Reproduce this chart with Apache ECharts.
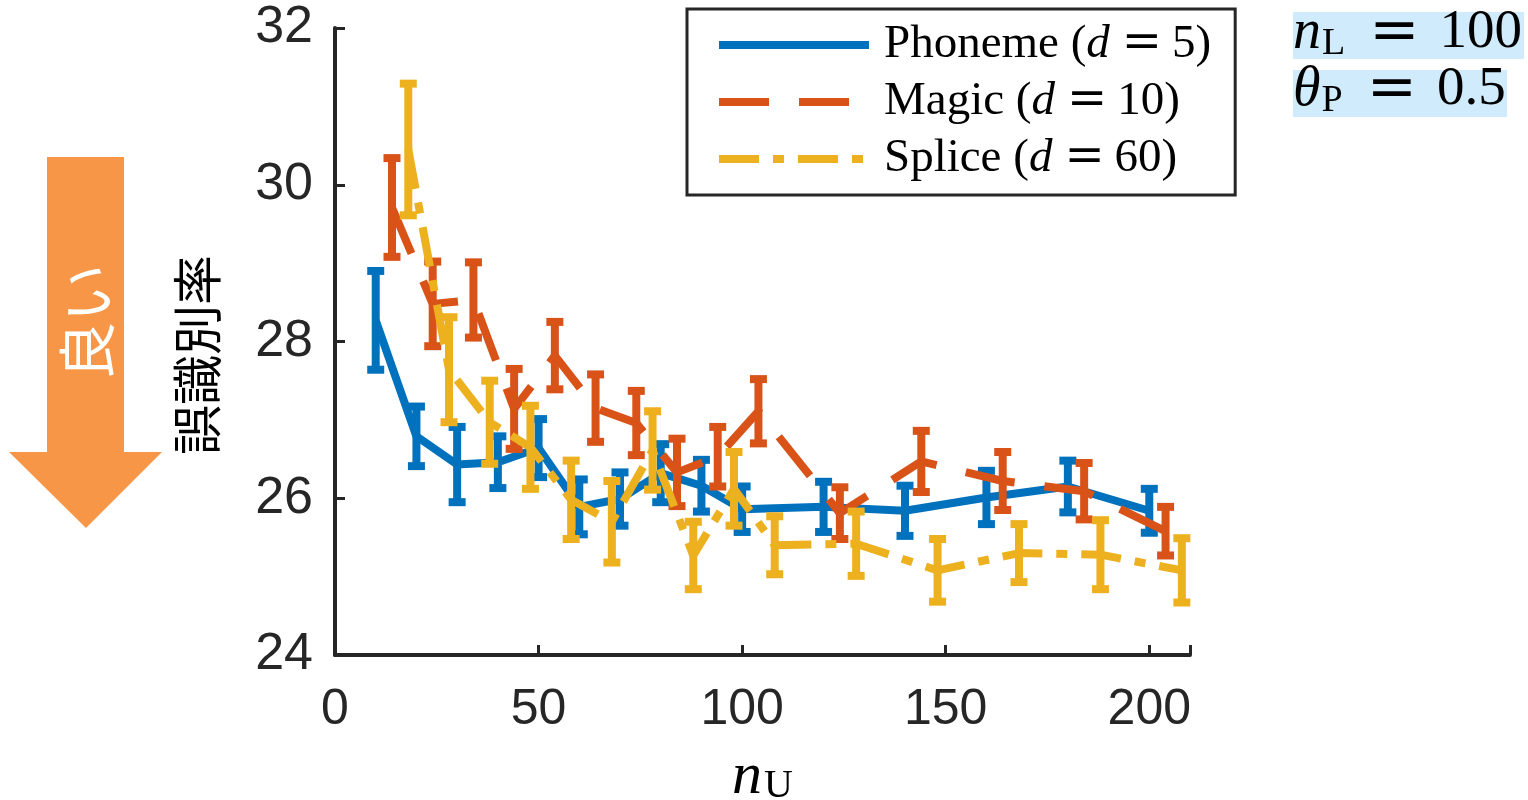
<!DOCTYPE html>
<html>
<head>
<meta charset="utf-8">
<title>誤識別率</title>
<script src="https://cdn.jsdelivr.net/npm/echarts@6/dist/echarts.min.js"></script>
<style>
  html, body { margin: 0; padding: 0; background: #fff; }
  #myChart { width: 1528px; height: 800px; }
</style>
</head>
<body>
<div id="myChart"></div>
<script>
// 系列名と次元 d
let names = ["Phoneme", "Magic", "Splice"];
let dims = [5, 10, 60];
let colors = ["#0072BD", "#D95319", "#EDB120"];

// n_U（各手法は少しずらして描かれている）
let xPhoneme = [10, 20, 30, 40, 50, 60, 70, 80, 90, 100, 120, 140, 160, 180, 200];
let xMagic = [14, 24, 34, 44, 54, 64, 74, 84, 94, 104, 124, 144, 164, 184, 204];
let xSplice = [18, 28, 38, 48, 58, 68, 78, 88, 98, 108, 128, 148, 168, 188, 208];

// 誤識別率（平均）と誤差
let phoneme = [28.27, 26.79, 26.43, 26.46, 26.64, 25.89, 25.99, 26.32, 26.16, 25.86, 25.89, 25.84, 26.01, 26.15, 25.84];
let phonemeErr = [0.63, 0.38, 0.48, 0.33, 0.37, 0.35, 0.34, 0.37, 0.33, 0.29, 0.32, 0.32, 0.34, 0.33, 0.28];
let magic = [29.71, 28.48, 28.53, 27.14, 27.82, 27.15, 26.96, 26.33, 26.53, 27.11, 25.81, 26.47, 26.22, 26.09, 25.58];
let magicErr = [0.63, 0.54, 0.48, 0.51, 0.43, 0.43, 0.41, 0.43, 0.38, 0.41, 0.33, 0.39, 0.37, 0.36, 0.31];
let splice = [30.45, 27.64, 26.97, 26.65, 25.98, 25.70, 26.61, 25.27, 26.12, 25.40, 25.42, 25.08, 25.30, 25.28, 25.08];
let spliceErr = [0.84, 0.67, 0.53, 0.53, 0.50, 0.52, 0.50, 0.43, 0.47, 0.37, 0.41, 0.40, 0.37, 0.44, 0.41];

let xTicks = [0, 50, 100, 150, 200];
let yTicks = [24, 26, 28, 30, 32];

let myChart = echarts.init(document.getElementById("myChart"));

let axisColor = "#262626";
let serif = "'Liberation Serif', 'DejaVu Serif', serif";
let mathSym = "'DejaVu Serif', serif";
let sans = "'Liberation Sans', Arial, sans-serif";
let cjk = "'Noto Sans CJK JP', sans-serif";

// 折れ線
function lineSeries(idx, xs, ys, dash) {
  return {
    name: names[idx],
    type: "line",
    symbol: "none",
    z: 2 + idx * 2,
    lineStyle: { color: colors[idx], width: 8, type: dash },
    itemStyle: { color: colors[idx] },
    data: xs.map((x, i) => [x, ys[i]]),
    silent: true
  };
}

// エラーバー（縦線＋上下のキャップ）
function errorSeries(idx, xs, ys, errs) {
  let color = colors[idx];
  return {
    name: names[idx] + "-err",
    type: "custom",
    z: 3 + idx * 2,
    silent: true,
    renderItem: function(params, api) {
      let x = api.value(0);
      let lo = api.coord([x, api.value(1)]);
      let hi = api.coord([x, api.value(2)]);
      let w = 8.5;
      let style = { stroke: color, lineWidth: 8 };
      return {
        type: "group",
        children: [
          { type: "line", shape: { x1: lo[0], y1: lo[1], x2: hi[0], y2: hi[1] }, style: style },
          { type: "line", shape: { x1: hi[0] - w, y1: hi[1], x2: hi[0] + w, y2: hi[1] }, style: style },
          { type: "line", shape: { x1: lo[0] - w, y1: lo[1], x2: lo[0] + w, y2: lo[1] }, style: style }
        ]
      };
    },
    encode: { x: 0, y: [1, 2] },
    data: xs.map((x, i) => [x, ys[i] - errs[i], ys[i] + errs[i]])
  };
}

// 右上の注記用の数式テキスト
function mathText(y, sym, sub, val) {
  return {
    type: "text",
    x: 1293, y: y,
    style: {
      text: "{i|" + sym + "}{s|" + sub + "}{e|=}{r|" + val + "}",
      verticalAlign: "middle",
      rich: {
        i: { fontFamily: serif, fontStyle: "italic", fontSize: 56, fill: "#000" },
        s: { fontFamily: serif, fontSize: 38, fill: "#000", padding: [22, 0, 0, 1] },
        e: { fontFamily: mathSym, fontSize: 60, fill: "#000", padding: [0, 20, 0, 24] },
        r: { fontFamily: serif, fontSize: 55, fill: "#000" }
      }
    },
    silent: true
  };
}

let option = {
  animation: false,
  backgroundColor: "#fff",
  grid: { left: 335, top: 28, width: 855, height: 627, outerBoundsMode: "none", containLabel: false },
  legend: {
    data: names,
    orient: "vertical",
    left: 687,
    top: 9,
    padding: [12, 24, 12, 28],
    itemWidth: 150,
    itemHeight: 10,
    itemGap: 9,
    backgroundColor: "#fff",
    borderColor: axisColor,
    borderWidth: 3,
    borderRadius: 0,
    selectedMode: false,
    itemStyle: { opacity: 0 },
    lineStyle: { width: 8 },
    formatter: function(name) {
      let i = names.indexOf(name);
      return "{f|" + name + " (}{i|d}{e|=}{r|" + dims[i] + ")}";
    },
    textStyle: {
      rich: {
        f: { fontFamily: serif, fontSize: 47, color: "#000", lineHeight: 46, padding: [0, 0, 0, 10] },
        r: { fontFamily: serif, fontSize: 47, color: "#000", lineHeight: 46 },
        i: { fontFamily: serif, fontSize: 47, fontStyle: "italic", color: "#000", lineHeight: 46 },
        e: { fontFamily: mathSym, fontSize: 48, color: "#000", lineHeight: 46, padding: [0, 10, 0, 12] }
      }
    }
  },
  xAxis: {
    type: "value",
    min: 0,
    max: 210,
    interval: 50,
    name: "{n|n}{s|U}",
    nameLocation: "middle",
    nameGap: 92,
    nameTextStyle: {
      rich: {
        n: { fontFamily: serif, fontStyle: "italic", fontSize: 60, color: "#000" },
        s: { fontFamily: serif, fontSize: 40, color: "#000", padding: [18, 0, 0, 2] }
      }
    },
    axisLine: { show: true, onZero: false, lineStyle: { color: axisColor, width: 4 } },
    axisTick: { show: true, inside: true, length: 10, lineStyle: { color: axisColor, width: 3 } },
    axisLabel: {
      margin: 30,
      fontFamily: sans,
      fontSize: 50,
      color: axisColor,
      formatter: function(v) { return xTicks.indexOf(v) >= 0 ? String(v) : ""; }
    },
    splitLine: { show: false }
  },
  yAxis: {
    type: "value",
    min: 24,
    max: 32,
    interval: 2,
    axisLine: { show: true, onZero: false, lineStyle: { color: axisColor, width: 4 } },
    axisTick: { show: true, inside: true, length: 10, lineStyle: { color: axisColor, width: 3 } },
    axisLabel: {
      margin: 22,
      fontFamily: sans,
      fontSize: 52,
      color: axisColor,
      formatter: function(v) { return yTicks.indexOf(v) >= 0 ? String(v) : ""; }
    },
    splitLine: { show: false }
  },
  graphic: [
    // 「良い」矢印
    {
      type: "polygon",
      shape: { points: [[47, 157], [124, 157], [124, 452], [162, 452], [86, 528], [9, 452], [47, 452]] },
      style: { fill: "#F79646" },
      silent: true
    },
    {
      type: "text",
      x: 87, y: 322, rotation: Math.PI / 2,
      style: { text: "良い", fill: "#fff", fontFamily: cjk, fontSize: 58, align: "center", verticalAlign: "middle" },
      silent: true
    },
    // 縦軸ラベル
    {
      type: "text",
      x: 197, y: 355, rotation: Math.PI / 2,
      style: { text: "誤識別率", fill: "#000", fontFamily: cjk, fontSize: 50, align: "center", verticalAlign: "middle" },
      silent: true
    },
    // 右上のパラメータ
    { type: "rect", shape: { x: 1293, y: 12, width: 231, height: 47 }, style: { fill: "#d0ebfb" }, silent: true },
    { type: "rect", shape: { x: 1293, y: 70, width: 214, height: 47 }, style: { fill: "#d0ebfb" }, silent: true },
    mathText(33, "n", "L", "100"),
    mathText(90, "θ", "P", "0.5")
  ],
  series: [
    lineSeries(0, xPhoneme, phoneme, "solid"),
    errorSeries(0, xPhoneme, phoneme, phonemeErr),
    lineSeries(1, xMagic, magic, [50, 30]),
    errorSeries(1, xMagic, magic, magicErr),
    lineSeries(2, xSplice, splice, [40, 14, 11, 14]),
    errorSeries(2, xSplice, splice, spliceErr)
  ]
};

myChart.setOption(option, true);
</script>
</body>
</html>
